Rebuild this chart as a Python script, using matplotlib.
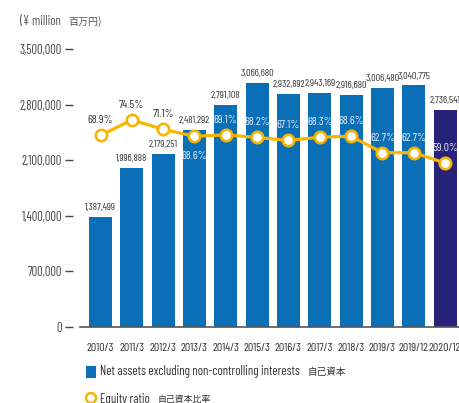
import matplotlib
matplotlib.use('Agg')
import matplotlib.pyplot as plt
from matplotlib.patches import Rectangle, Ellipse

categories = ['2010/3', '2011/3', '2012/3', '2013/3', '2014/3', '2015/3', '2016/3',
              '2017/3', '2018/3', '2019/3', '2019/12', '2020/12']
net_assets = [1387499, 1996888, 2179251, 2481292, 2791108, 3066680, 2932892,
              2943169, 2916680, 3006480, 3040775, 2736541]
equity_ratio = [68.9, 74.5, 71.1, 68.6, 69.1, 68.2, 67.1, 68.3, 68.6, 62.7, 62.7, 59.0]
yticks = [0, 700000, 1400000, 2100000, 2800000, 3500000]

NARROW = ['Barlow Condensed', 'PT Sans Narrow', 'DejaVu Sans']
CJK = ['Noto Sans CJK JP', 'DejaVu Sans']

BLUE = '#0B6FB8'
NAVY = '#27237A'
GOLD = '#F8B500'
TXT = '#333333'
LIGHT = '#E4EDF8'

W, H = 459, 403
fig = plt.figure(figsize=(W / 100, H / 100), dpi=100)


def fx(px):
    return px / W


def fy(py):
    return 1 - py / H


x0, x1 = 80.2, 463.8
yb, yt = 327, 49
ax = fig.add_axes([fx(x0), fy(yb), (x1 - x0) / W, (yb - yt) / H])
ax.set_xlim(-0.65, 11.6)
ax.set_ylim(0, 3500000)

xs = list(range(len(categories)))
colors = [BLUE] * (len(categories) - 1) + [NAVY]
ax.bar(xs, net_assets, width=0.735, color=colors, zorder=2)

for s in ['top', 'right']:
    ax.spines[s].set_visible(False)
ax.spines['left'].set_position(('outward', 5))
ax.spines['left'].set_visible(False)
ax.spines['bottom'].set_color('#555555')
ax.spines['bottom'].set_linewidth(1.2)
ax.spines['bottom'].set_zorder(3)

ax.set_yticks(yticks)
ax.set_yticklabels([f'{v:,}' for v in yticks])
ax.tick_params(axis='y', length=5.8, width=1.0, color='#444444', pad=2.2,
               labelsize=9.0, labelcolor='#444444')
for lb in ax.get_yticklabels():
    lb.set_family(NARROW)

ax.set_xticks(xs)
ax.set_xticklabels(categories)
ax.tick_params(axis='x', length=0, pad=11.5, labelsize=8.6, labelcolor=TXT)
for lb in ax.get_xticklabels():
    lb.set_family(NARROW)

for i, v in enumerate(net_assets):
    ax.annotate(f'{v:,}', (i, v), xytext=(0, 6.8), textcoords='offset points',
                ha='center', va='center', fontsize=7.4, color=TXT, family=NARROW,
                zorder=4)

ax2 = ax.twinx()
ax2.set_ylim(0, 100)
ax2.axis('off')
ax2.plot(xs, equity_ratio, color=GOLD, lw=2.3, marker='o', ms=8.2,
         mfc='white', mec=GOLD, mew=1.9, zorder=5)

for i, r in enumerate(equity_ratio):
    off = -14.4 if i == 3 else 10.8
    col = TXT if i < 3 else LIGHT
    ax2.annotate(f'{r:.1f}%', (i, r), xytext=(0, off), textcoords='offset points',
                 ha='center', va='center', fontsize=8.4, color=col, family=NARROW, zorder=6)

# unit label
fig.text(fx(20), fy(22), '(¥ million', ha='left', va='center',
         fontsize=9.2, color='#555555', family=NARROW)
fig.text(fx(68), fy(22), '百万円)', ha='left', va='center',
         fontsize=7.2, color='#555555', family=CJK)

# legend
fig.patches.append(Rectangle((fx(86), fy(378)), 10 / W, 12 / H, transform=fig.transFigure,
                             facecolor=BLUE, edgecolor='none'))
fig.text(fx(100), fy(372), 'Net assets excluding non-controlling interests',
         ha='left', va='center', fontsize=9.2, color=TXT, family=NARROW)
fig.text(fx(307), fy(372), '自己資本', ha='left', va='center', fontsize=6.9,
         color=TXT, family=CJK)
fig.patches.append(Ellipse((fx(91), fy(398)), 10 / W, 10 / H, transform=fig.transFigure,
                           facecolor='white', edgecolor=GOLD, lw=1.8))
fig.text(fx(100), fy(399), 'Equity ratio', ha='left', va='center', fontsize=9.2,
         color=TXT, family=NARROW)
fig.text(fx(158), fy(399), '自己資本比率', ha='left', va='center', fontsize=6.4,
         color=TXT, family=CJK)

fig.savefig('out.png', dpi=100)
